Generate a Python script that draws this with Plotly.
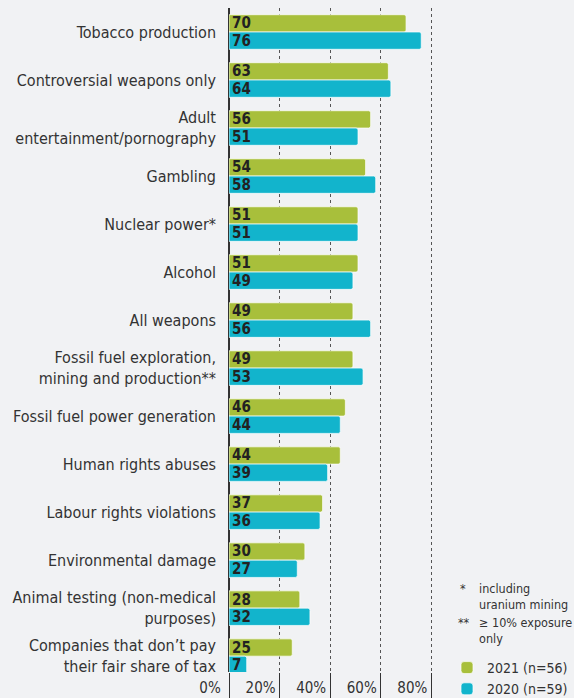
import plotly.graph_objects as go

categories = [
    "Tobacco production",
    "Controversial weapons only",
    "Adult<br>entertainment/pornography",
    "Gambling",
    "Nuclear power*",
    "Alcohol",
    "All weapons",
    "Fossil fuel exploration,<br>mining and production**",
    "Fossil fuel power generation",
    "Human rights abuses",
    "Labour rights violations",
    "Environmental damage",
    "Animal testing (non-medical<br>purposes)",
    "Companies that don\u2019t pay<br>their fair share of tax",
]
v2021 = [70, 63, 56, 54, 51, 51, 49, 49, 46, 44, 37, 30, 28, 25]
v2020 = [76, 64, 51, 58, 51, 49, 56, 53, 44, 39, 36, 27, 32, 7]
series_names = ["2021 (n=56)", "2020 (n=59)"]
tick_vals = [0, 20, 40, 60, 80]
tick_text = ["0%", "20%", "40%", "60%", "80%"]
x_range = [0, 85]

FONT = "DejaVu Sans Condensed, Liberation Sans Narrow, sans-serif"
GREEN = "#a8bf3b"
CYAN = "#12b4cc"
BG = "#f1f2f4"

fig = go.Figure()
for name, vals, col in [(series_names[0], v2021, GREEN), (series_names[1], v2020, CYAN)]:
    fig.add_trace(go.Bar(
        y=categories, x=vals, name=name, orientation="h",
        marker=dict(color=col, line=dict(color="rgba(255,255,255,0.7)", width=1)),
        text=[str(v) for v in vals], textposition="inside", insidetextanchor="start",
        textangle=0,
        textfont=dict(family=FONT, size=15, color="#222222", weight="bold"),
        cliponaxis=False,
    ))
# empty helper trace so the overlaid tick-mark axis is drawn
fig.add_trace(go.Scatter(x=[], y=[], xaxis="x2", yaxis="y", showlegend=False,
                         hoverinfo="skip", mode="markers"))

W, H = 574, 698
L, R, T, B = 229, 130, 8, 26
pw, ph = W - L - R, H - T - B

def px(x):
    return (x - L) / pw

def py(y):
    return (H - B - y) / ph

notes = [
    (468, 588, "*", "right"), (477, 588, "including", "left"), (477, 604, "uranium mining", "left"),
    (472, 622, "**", "right"), (477, 622, "\u2265 10% exposure", "left"), (477, 638, "only", "left"),
]
annotations = [
    dict(x=px(x), y=py(y), xref="paper", yref="paper", text=t, showarrow=False,
         xanchor=a, yanchor="middle", font=dict(family=FONT, size=12.5, color="#333333"))
    for x, y, t, a in notes
]

fig.update_layout(
    width=W, height=H,
    margin=dict(l=L, r=R, t=T, b=B, pad=0),
    paper_bgcolor=BG, plot_bgcolor=BG,
    barmode="group", bargap=0.28, bargroupgap=0,
    barcornerradius=2,
    uniformtext=dict(minsize=15, mode="show"),
    font=dict(family=FONT, size=16, color="#333333"),
    showlegend=True,
    legend=dict(xref="container", yref="container",
                x=447 / W, y=(H - 652) / H, xanchor="left", yanchor="top",
                font=dict(family=FONT, size=14, color="#333333"),
                bgcolor="rgba(0,0,0,0)", traceorder="normal", tracegroupgap=0,
                itemwidth=30),
    annotations=annotations,
    xaxis=dict(
        range=x_range, tickvals=tick_vals, ticktext=tick_text,
        showgrid=True, gridcolor="#555555", griddash="dot", gridwidth=1,
        zeroline=True, zerolinecolor="#333333", zerolinewidth=1.5,
        ticks="", ticklabelshift=-19, ticklabelstandoff=5,
        tickfont=dict(family=FONT, size=15, color="#333333"),
        showline=False, fixedrange=True, automargin=False,
    ),
    xaxis2=dict(
        overlaying="x", side="bottom", anchor="y", range=x_range, tickvals=tick_vals,
        showticklabels=False, showgrid=False, zeroline=False, showline=False,
        ticks="outside", ticklen=26, tickcolor="#333333", tickwidth=1.2,
        fixedrange=True, automargin=False,
    ),
    yaxis=dict(
        range=[13.33, -0.5], showgrid=False, zeroline=False, showline=False,
        ticks="", ticklabelstandoff=12, automargin=False,
        tickfont=dict(family=FONT, size=16, color="#333333"),
        fixedrange=True,
    ),
)

fig.write_html("out.html")
